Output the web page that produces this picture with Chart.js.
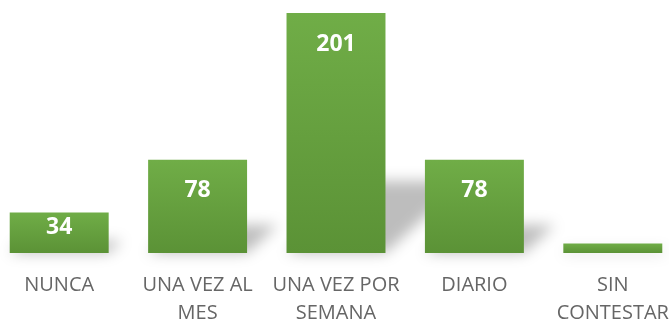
<!DOCTYPE html>
<html lang="es">
<head>
<meta charset="UTF-8">
<title>Frecuencia</title>
<script src="https://cdn.jsdelivr.net/npm/chart.js"></script>
<style>
  html, body { margin: 0; padding: 0; background: #fff; overflow: hidden; }
  .wrap { position: absolute; left: -10px; top: 0; width: 692px; height: 324px; }
</style>
</head>
<body>
<div class="wrap"><canvas id="chart"></canvas></div>
<script>
  const categories = [['NUNCA'], ['UNA VEZ AL', 'MES'], ['UNA VEZ POR', 'SEMANA'], ['DIARIO'], ['SIN', 'CONTESTAR']];
  const counts = [34, 78, 201, 78, 8];

  // vertical gradient per bar, from its top to the baseline
  function barGradient(ctx) {
    const chart = ctx.chart;
    const y = chart.scales.y;
    if (!y || !ctx.parsed) return '#66a040';
    const top = y.getPixelForValue(ctx.parsed.y);
    const base = y.getPixelForValue(0);
    if (!isFinite(top) || !isFinite(base) || top === base) return '#66a040';
    const g = chart.ctx.createLinearGradient(0, top, 0, base);
    g.addColorStop(0, '#70ad47');
    g.addColorStop(1, '#5b9236');
    return g;
  }

  // soft perspective shadow cast up and to the right of each bar
  const shadowPlugin = {
    id: 'barShadow',
    beforeDatasetsDraw(chart) {
      const c = chart.ctx;
      const meta = chart.getDatasetMeta(0);
      c.save();
      c.filter = 'blur(7px)';
      c.fillStyle = 'rgba(0,0,0,0.26)';
      meta.data.forEach(bar => {
        const half = bar.width / 2;
        const left = bar.x - half, right = bar.x + half;
        const sh = (bar.base - bar.y) * 0.3;
        const shift = sh * 1.1;
        c.beginPath();
        c.moveTo(left, bar.base);
        c.lineTo(right, bar.base);
        c.lineTo(right + shift, bar.base - sh);
        c.lineTo(left + shift, bar.base - sh);
        c.closePath();
        c.fill();
      });
      c.restore();
    }
  };

  const valueLabels = {
    id: 'valueLabels',
    afterDatasetsDraw(chart) {
      const c = chart.ctx;
      const meta = chart.getDatasetMeta(0);
      c.save();
      c.fillStyle = '#ffffff';
      c.font = 'bold 23px "Open Sans"';
      c.textAlign = 'center';
      c.textBaseline = 'middle';
      meta.data.forEach((bar, i) => {
        const h = bar.base - bar.y;
        if (h < 25) return;
        const off = Math.min(31, h / 2 - 5);
        c.fillText(String(counts[i]), bar.x, bar.y + off);
      });
      c.restore();
    }
  };

  new Chart(document.getElementById('chart'), {
    type: 'bar',
    data: {
      labels: categories,
      datasets: [{
        data: counts,
        backgroundColor: barGradient,
        borderWidth: 0,
        barPercentage: 0.715,
        categoryPercentage: 1
      }]
    },
    options: {
      responsive: true,
      maintainAspectRatio: false,
      animation: false,
      layout: { padding: { top: 13, left: 0, right: 0, bottom: 0 } },
      plugins: { legend: { display: false }, tooltip: { enabled: false } },
      scales: {
        x: {
          grid: { display: false },
          border: { display: false },
          ticks: {
            color: '#666666',
            font: { family: '"Open Sans"', size: 20, lineHeight: 1.4 },
            padding: 10,
            maxRotation: 0,
            autoSkip: false
          },
          afterFit(scale) { scale.height = 71; }
        },
        y: { display: false, min: 0, max: 201 }
      }
    },
    plugins: [shadowPlugin, valueLabels]
  });
</script>
</body>
</html>
